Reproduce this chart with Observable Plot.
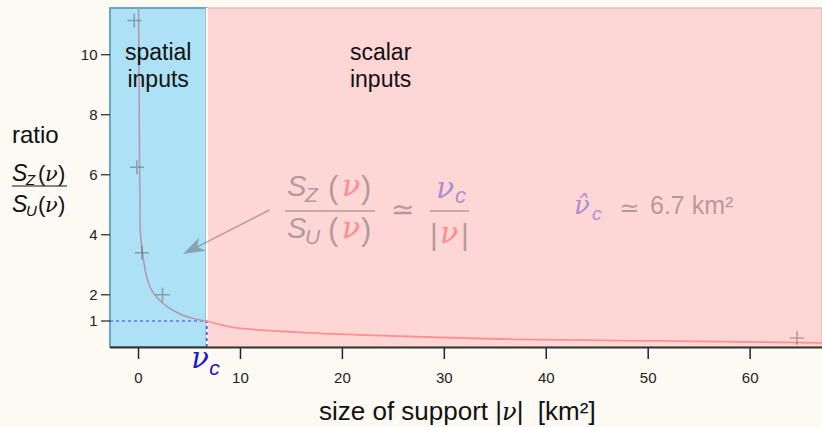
<!DOCTYPE html>
<html><head><meta charset="utf-8">
<script src="https://cdn.jsdelivr.net/npm/d3@7"></script>
<script src="https://cdn.jsdelivr.net/npm/@observablehq/plot@0.6"></script>
<style>
html,body{margin:0;padding:0;background:#fcfaf3;}
#chart{width:822px;height:427px;}
</style></head><body><div id="chart"></div>
<script>
// ---- data ----
const nuC = 6.7;                       // critical support size (km²)
const xDomain = [-2.75, 67.1];
const yDomain = [0.25, 1, 2, 11.54];   // piecewise: ratio 1 sits at ν_c
const xTicks = [0, 10, 20, 30, 40, 50, 60];
const yTicks = [1, 2, 4, 6, 8, 10];
const curveX = [0.0, 0.07, 0.1, 0.17, 0.36, 0.66, 1.15, 1.8, 2.45, 3.43, 4.41, 5.56, 6.7, 9.31, 15.85, 22.4, 28.9, 35.5, 50.8, 67.1];
const curveY = [11.54, 8.2, 6.31, 4.14, 3.48, 2.81, 2.25, 1.91, 1.66, 1.40, 1.21, 1.08, 1.0, 0.82, 0.68, 0.60, 0.54, 0.49, 0.44, 0.38];
const pointsX = [-0.42, -0.16, 0.33, 2.35, 64.6];
const pointsY = [11.14, 6.25, 3.4, 2.0, 0.52];
const arrowFrom = [12.9, 4.81];
const arrowTo = [4.41, 3.34];
const regionNames = ["spatial", "scalar"];

// ---- derived tables ----
const curve = curveX.map((x, i) => ({x, y: curveY[i]}));
const curveSpatial = curve.filter(d => d.x <= nuC);
const curveScalar = curve.filter(d => d.x >= nuC);
const points = pointsX.map((x, i) => ({x, y: pointsY[i]}));
const regions = [
  {name: regionNames[0], x1: xDomain[0], x2: nuC, y1: yDomain[0], y2: yDomain[yDomain.length - 1]},
  {name: regionNames[1], x1: nuC, x2: xDomain[1], y1: yDomain[0], y2: yDomain[yDomain.length - 1]}
];

const SANS = "Liberation Sans, Arial, sans-serif";
const SERIF = "DejaVu Serif, Liberation Serif, serif";
const GRAYTXT = "#b59a9a";
const NUPINK = "#ff8c8c";
const NUPURPLE = "#a890d2";

function put(g, s, x, y, o = {}) {
  const t = g.append("text").attr("x", x).attr("y", y).text(s)
    .attr("font-size", o.size || 20)
    .attr("font-family", o.family || SANS)
    .attr("fill", o.fill || "#111")
    .attr("text-anchor", o.anchor || "start");
  if (o.italic) t.attr("font-style", "italic");
  return t;
}

function arrowMark(index, scales) {
  const X = scales.x, Y = scales.y;
  const g = d3.create("svg:g");
  const x0 = X(arrowFrom[0]), y0 = Y(arrowFrom[1]);
  const x1 = X(arrowTo[0]), y1 = Y(arrowTo[1]);
  const a = Math.atan2(y1 - y0, x1 - x0);
  const ux = Math.cos(a), uy = Math.sin(a), nx = -uy, ny = ux;
  const L = 22, W = 7.5, N = 6;
  const col = "rgba(80,80,80,0.42)";
  g.append("line").attr("x1", x0).attr("y1", y0)
    .attr("x2", x1 - (L - N) * ux).attr("y2", y1 - (L - N) * uy)
    .attr("stroke", col).attr("stroke-width", 1.5);
  const pts = [
    [x1, y1],
    [x1 - L * ux + W * nx, y1 - L * uy + W * ny],
    [x1 - (L - N) * ux, y1 - (L - N) * uy],
    [x1 - L * ux - W * nx, y1 - L * uy - W * ny]
  ];
  g.append("polygon").attr("points", pts.map(p => p.join(",")).join(" ")).attr("fill", col);
  return g.node();
}

function annotations(index, scales) {
  const X = scales.x;
  const g = d3.create("svg:g").attr("text-anchor", "start");
  // region labels
  const cxS = X((xDomain[0] + nuC) / 2), cxC = X(23.8);
  put(g, "spatial", cxS, 60, {size: 23, anchor: "middle"});
  put(g, "inputs", cxS, 87, {size: 23, anchor: "middle"});
  put(g, "scalar", cxC, 60, {size: 23, anchor: "middle"});
  put(g, "inputs", cxC, 87, {size: 23, anchor: "middle"});

  // y label: ratio S_Z(ν)/S_U(ν)
  put(g, "ratio", 12, 143, {size: 24});
  const fr = (base, sub) => {
    put(g, "S", 12, base, {size: 23, italic: true});
    put(g, sub, 26, base + 4, {size: 15, italic: true});
    put(g, "(", 38, base, {size: 22});
    put(g, "ν", 45, base, {size: 21, italic: true, family: SERIF});
    put(g, ")", 58, base, {size: 22});
  };
  fr(181, "Z");
  g.append("line").attr("x1", 12).attr("x2", 67).attr("y1", 186).attr("y2", 186).attr("stroke", "#111").attr("stroke-width", 1.2);
  fr(212, "U");

  // big formula
  const big = (base, sub) => {
    put(g, "S", 287, base, {size: 29, italic: true, fill: GRAYTXT});
    put(g, sub, 305, base + 6, {size: 21, italic: true, fill: GRAYTXT});
    put(g, "(", 328, base + 2, {size: 31, fill: GRAYTXT});
    put(g, "ν", 342, base, {size: 30, italic: true, family: SERIF, fill: NUPINK});
    put(g, ")", 361, base + 2, {size: 31, fill: GRAYTXT});
  };
  big(196, "Z");
  g.append("line").attr("x1", 285).attr("x2", 375).attr("y1", 211).attr("y2", 211).attr("stroke", GRAYTXT).attr("stroke-width", 1.6);
  big(238, "U");
  put(g, "≃", 391, 219, {size: 28, family: "DejaVu Sans, sans-serif", fill: GRAYTXT});
  put(g, "ν", 436, 198, {size: 30, italic: true, family: SERIF, fill: NUPURPLE});
  put(g, "c", 455, 203, {size: 22, italic: true, fill: NUPURPLE});
  g.append("line").attr("x1", 430).attr("x2", 469).attr("y1", 211).attr("y2", 211).attr("stroke", GRAYTXT).attr("stroke-width", 1.6);
  put(g, "|", 430, 245, {size: 30, fill: GRAYTXT});
  put(g, "ν", 440, 243, {size: 30, italic: true, family: SERIF, fill: NUPINK});
  put(g, "|", 461, 245, {size: 30, fill: GRAYTXT});

  // estimated nu_c
  put(g, "ν\u0302", 574, 214, {size: 26, italic: true, family: SERIF, fill: NUPURPLE});
  put(g, "c", 592, 220, {size: 19, italic: true, fill: NUPURPLE});
  put(g, "≃", 619, 216, {size: 24, family: "DejaVu Sans, sans-serif", fill: GRAYTXT});
  put(g, "6.7 km²", 650, 214, {size: 25, fill: GRAYTXT});

  // nu_c under axis
  const xc = X(nuC);
  put(g, "ν", xc - 15, 368, {size: 29, italic: true, family: SERIF, fill: "#1a1acc"});
  put(g, "c", xc + 3, 375, {size: 21, italic: true, fill: "#1a1acc"});

  // x label
  const t = g.append("text").attr("x", 319).attr("y", 420).attr("font-size", 26)
    .attr("text-anchor", "start").attr("font-family", SANS).attr("fill", "#111");
  t.append("tspan").text("size of support |");
  t.append("tspan").attr("font-family", SERIF).attr("font-style", "italic").attr("font-size", 24).text("ν");
  t.append("tspan").text("|\u00a0\u00a0[km²]");
  return g.node();
}

const chart = Plot.plot({
  width: 822,
  height: 427,
  marginLeft: 110,
  marginRight: 0,
  marginTop: 8,
  marginBottom: 80,
  style: {background: "transparent", fontFamily: SANS, color: "#222", overflow: "visible"},
  x: {domain: xDomain},
  y: {type: "linear", domain: yDomain, range: [347, 320.5, 294.3, 8]},
  marks: [
    Plot.rect(regions.slice(0, 1), {x1: "x1", x2: "x2", y1: "y1", y2: "y2", fill: "#ade1f5", stroke: "#6aa8c0", strokeWidth: 2}),
    Plot.rect(regions.slice(1), {x1: "x1", x2: "x2", y1: "y1", y2: "y2", fill: "#ffd6d6", stroke: "#d6a9a9", strokeWidth: 1}),
    Plot.ruleX([nuC], {y1: yDomain[0], y2: yDomain[yDomain.length - 1], stroke: "white", strokeWidth: 2}),
    Plot.ruleY([1], {x1: xDomain[0], x2: nuC, stroke: "#3b3bff", strokeDasharray: "3,3", strokeWidth: 1.2}),
    Plot.ruleX([nuC], {y1: yDomain[0], y2: 1, stroke: "#3b3bff", strokeDasharray: "3,3", strokeWidth: 1.5}),
    Plot.line(curveSpatial, {x: "x", y: "y", stroke: "#b495ab", strokeWidth: 1.5, curve: "monotone-x", clip: true}),
    Plot.line(curveScalar, {x: "x", y: "y", stroke: "#ff9090", strokeWidth: 1.8, curve: "monotone-x", clip: true}),
    Plot.dot(points, {x: "x", y: "y", symbol: "plus", r: 4.6, stroke: "rgba(80,80,80,0.45)", strokeWidth: 1.5}),
    Plot.axisX(xTicks, {tickSize: 12, tickFormat: () => "", label: null, stroke: "#222", strokeWidth: 1.5}),
    Plot.axisY(yTicks, {tickSize: 9, tickFormat: () => "", label: null, stroke: "#222", strokeWidth: 1.2}),
    Plot.text(xTicks, {x: d => d, y: yDomain[0], dy: 31, text: d => String(d), fontSize: 15, fill: "#222", fontFamily: SANS}),
    Plot.text(yTicks, {x: xDomain[0], y: d => d, dx: -13, text: d => String(d), textAnchor: "end", fontSize: 15, fill: "#222", fontFamily: SANS}),
    Plot.ruleY([yDomain[0]], {stroke: "#333", strokeWidth: 2}),
    arrowMark,
    annotations
  ]
});
document.getElementById("chart").appendChild(chart);
</script>
</body></html>
